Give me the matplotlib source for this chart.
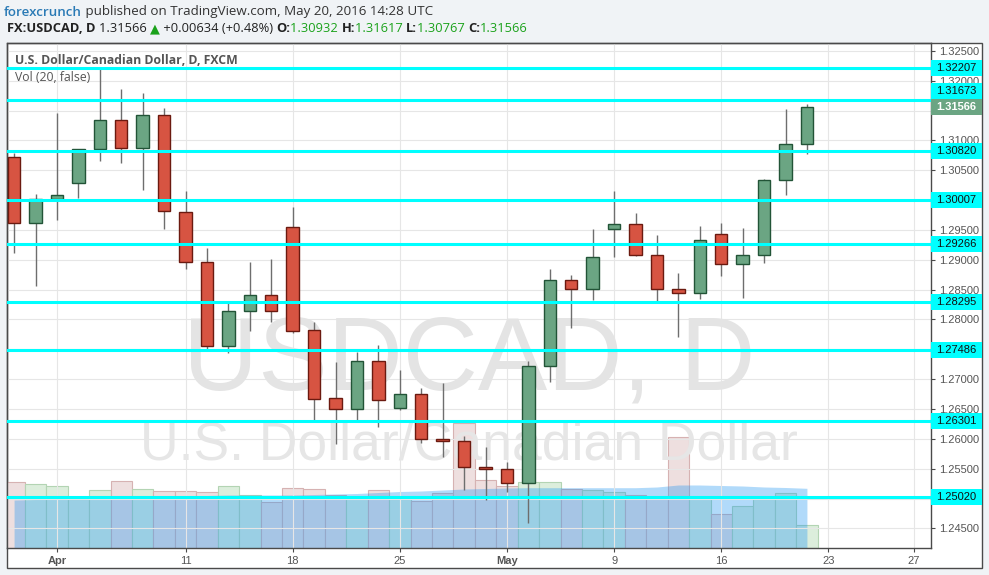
import matplotlib
matplotlib.use("Agg")
import matplotlib.pyplot as plt
import matplotlib.transforms as mtransforms
from matplotlib.patches import Rectangle
import numpy as np
import pandas as pd

# ---------------- data ----------------
calendar = pd.bdate_range("2016-03-30", "2016-05-27")   # trading-day axis
n_bars = 38                                              # Mar 30 .. May 20
opens = [1.30716, 1.29620, 1.30012, 1.30290, 1.30850, 1.31336, 1.30867, 1.31420,
         1.29795, 1.28957, 1.27555, 1.28136, 1.28404, 1.29543, 1.27818, 1.26679,
         1.26504, 1.27298, 1.26521, 1.26745, 1.25991, 1.25958, 1.25522, 1.25489,
         1.25264, 1.27220, 1.28660, 1.28505, 1.29510, 1.29594, 1.29074, 1.28505,
         1.28437, 1.29426, 1.28923, 1.29074, 1.30336, 1.30932]
highs = [1.30793, 1.30101, 1.31463, 1.30860, 1.32195, 1.31855, 1.31788, 1.31537,
         1.30151, 1.29191, 1.28270, 1.28962, 1.29007, 1.29888, 1.27957, 1.27287,
         1.27454, 1.27571, 1.27153, 1.26846, 1.26940, 1.26047, 1.25867, 1.25611,
         1.27303, 1.28845, 1.28744, 1.29515, 1.30151, 1.29778, 1.29414, 1.28783,
         1.29565, 1.29610, 1.29531, 1.30353, 1.31525, 1.31617]
lows = [1.29118, 1.28560, 1.29666, 1.30029, 1.30659, 1.30625, 1.30168, 1.29515,
        1.28845, 1.27513, 1.27432, 1.27811, 1.27962, 1.27777, 1.26315, 1.25913,
        1.26315, 1.26203, 1.26482, 1.25935, 1.25700, 1.25142, 1.24975, 1.25114,
        1.24594, 1.26957, 1.27851, 1.28325, 1.29051, 1.29060, 1.28314, 1.27710,
        1.28347, 1.28727, 1.28364, 1.28940, 1.30084, 1.30767]
closes = [1.29620, 1.30012, 1.30079, 1.30850, 1.31336, 1.30867, 1.31420, 1.29821,
          1.28957, 1.27555, 1.28136, 1.28404, 1.28136, 1.27811, 1.26672, 1.26504,
          1.27298, 1.26645, 1.26745, 1.25991, 1.25958, 1.25522, 1.25489, 1.25264,
          1.27220, 1.28660, 1.28505, 1.29041, 1.29594, 1.29074, 1.28505, 1.28437,
          1.29325, 1.28923, 1.29074, 1.30336, 1.30932, 1.31566]
volumes = [66.0, 63.7, 61.7, 49.0, 57.7, 66.7, 58.7, 56.7, 56.7, 55.7, 61.7, 53.0,
           45.7, 59.7, 58.7, 53.0, 51.3, 57.7, 48.7, 47.0, 54.7, 124.7, 67.7, 62.0,
           65.7, 65.7, 59.0, 57.7, 56.0, 52.7, 51.0, 111.0, 51.0, 33.7, 41.7, 49.3,
           54.7, 22.7]
vol_ma20 = [48.0, 48.5, 49.0, 49.5, 50.0, 50.5, 51.0, 51.5, 52.0, 52.5, 53.0, 53.0,
            53.0, 53.0, 53.5, 54.0, 54.5, 55.5, 56.5, 57.0, 58.0, 59.0, 59.5, 60.0,
            60.3, 60.3, 60.3, 60.3, 60.3, 60.3, 61.0, 63.0, 63.0, 62.5, 62.0, 61.0,
            60.5, 59.7]
levels = [1.32207, 1.31673, 1.30820, 1.30007, 1.29266, 1.28295, 1.27486, 1.26301, 1.25020]
last_price = 1.31566
xtick_dates = ["2016-04-01", "2016-04-11", "2016-04-18", "2016-04-25", "2016-05-02",
               "2016-05-09", "2016-05-16", "2016-05-23", "2016-05-27"]
xtick_labels = ["Apr", "11", "18", "25", "May", "9", "16", "23", "27"]
ytick_values = [1.24500, 1.25000, 1.25500, 1.26000, 1.26500, 1.27000, 1.27500, 1.28000,
                1.28500, 1.29000, 1.29500, 1.30000, 1.30500, 1.31000, 1.31500, 1.32000,
                1.32500]

# ---------------- style ----------------
W, H = 989, 575
FONT = "Liberation Sans"
UI = "Open Sans"
RED, RED_E = "#D75442", "#6B1A10"
GRN, GRN_E = "#6BA583", "#225437"
CYAN = "#00FFFF"
TXT = "#555555"

fig = plt.figure(figsize=(W / 100, H / 100), dpi=100, facecolor="#F0F3F6")

def fx(px):
    return px / W

def fy(py):
    return 1 - py / H

# outer white chart box
fig.patches.append(Rectangle((fx(7), fy(568)), fx(982) - fx(7), fy(43) - fy(568),
                             transform=fig.transFigure, facecolor="white",
                             edgecolor="#4A4A4A", linewidth=1.0, zorder=0))

rect = [fx(7), fy(548), fx(931) - fx(7), fy(43) - fy(548)]
ax_vol = fig.add_axes(rect, zorder=1)
ax = fig.add_axes(rect, zorder=2)
ax.patch.set_alpha(0)

x = np.array([calendar.get_loc(pd.Timestamp(d)) for d in calendar[:n_bars]])
xlim = (-0.33, 42.79)
ylim = (1.24171, 1.32631)

# ---------------- volume pane ----------------
o = np.array(opens); c = np.array(closes); h = np.array(highs); l = np.array(lows)
up = c >= o
vface = np.where(up, "#DCEEDC", "#EEDFDF")
vedge = np.where(up, "#B3D4B3", "#D6B2B2")
ax_vol.bar(x, volumes, width=1.0, color=vface, edgecolor=vedge, linewidth=0.8, zorder=1)
ax_vol.fill_between(x, 0, vol_ma20, color=(33 / 255, 150 / 255, 243 / 255, 0.35),
                    linewidth=0, zorder=2)
ax_vol.set_xlim(*xlim)
ax_vol.set_ylim(0, 505)
ax_vol.axis("off")

# ---------------- price pane ----------------
ax.set_xlim(*xlim)
ax.set_ylim(*ylim)

# grid
tick_x = [calendar.get_loc(pd.Timestamp(d)) for d in xtick_dates]
for tx in tick_x:
    ax.axvline(tx, color="#E6E6E6", lw=0.8, zorder=0)
for ty in ytick_values:
    ax.axhline(ty, color="#E6E6E6", lw=0.8, zorder=0)

bt = mtransforms.blended_transform_factory(ax.transAxes, ax.transData)

# watermark
ax.text(0.5, 1.26834, "USDCAD, D", transform=bt,
        ha="center", va="baseline", fontsize=75, color="#E4E4E4", family=FONT, zorder=0.5)
ax.text(0.5, 1.25660, "U.S. Dollar/Canadian Dollar", transform=bt,
        ha="center", va="baseline", fontsize=38.5, color="#E6E6E6", family=FONT, zorder=0.5)

# candles
ax.vlines(x, l, h, color="#6E6E6E", lw=1.0, zorder=3)
bottoms = np.minimum(o, c)
heights = np.abs(c - o)
ax.bar(x, heights, bottom=bottoms, width=0.58, color=np.where(up, GRN, RED),
       edgecolor=np.where(up, GRN_E, RED_E), linewidth=1.0, zorder=4)

# support/resistance lines
for lv in levels:
    ax.axhline(lv, color=CYAN, lw=2.2, zorder=5)

# axes styling
for s in ax.spines.values():
    s.set_color("#4A4A4A")
    s.set_linewidth(1.0)

ppu = 505 / (ylim[1] - ylim[0])           # pixels per price unit
box_h = 16 / ppu
box_w = (982 - 931) / 924

# label positions for the level boxes (pushed clear of the last-price box)
label_pos = []
for lv in levels:
    if abs(lv - last_price) < box_h:
        label_pos.append(last_price + box_h if lv > last_price else last_price - box_h)
    else:
        label_pos.append(lv)

ax.yaxis.tick_right()
ax.set_yticks(ytick_values)
ylabels = []
for v in ytick_values:
    covered = any(abs(v - p) < 0.45 * box_h for p in label_pos + [last_price])
    ylabels.append("" if covered else f"{v:.5f}")
ax.set_yticklabels(ylabels)
ax.tick_params(axis="y", which="both", length=3, width=0.8, color="#4A4A4A",
               labelsize=8, labelcolor=TXT, pad=3, left=False)
ax.set_xticks(tick_x)
ax.set_xticklabels(xtick_labels)
ax.tick_params(axis="x", length=3, width=0.8, color="#4A4A4A", labelsize=8,
               labelcolor=TXT, pad=3)
for lab in ax.get_yticklabels() + ax.get_xticklabels():
    lab.set_family(FONT)
for lab in ax.get_xticklabels():
    if lab.get_text() in ("Apr", "May"):
        lab.set_fontweight("bold")

# price-level boxes on the right scale
for lv, pos in zip(levels, label_pos):
    ax.add_patch(Rectangle((1.0, pos - box_h / 2), box_w, box_h, transform=bt,
                           facecolor=CYAN, edgecolor="none", clip_on=False, zorder=6))
    ax.text(1.0 + box_w / 2, pos, f"{lv:.5f}", transform=bt, ha="center", va="center",
            fontsize=8, color="#111111", family=FONT, clip_on=False, zorder=7)
ax.add_patch(Rectangle((1.0, last_price - box_h / 2), box_w, box_h, transform=bt,
                       facecolor=GRN, edgecolor="none", clip_on=False, zorder=6))
ax.text(1.0 + box_w / 2, last_price, f"{last_price:.5f}", transform=bt, ha="center",
        va="center", fontsize=8, color="white", fontweight="bold", family=FONT,
        clip_on=False, zorder=7)

# ---------------- header texts ----------------
renderer = fig.canvas.get_renderer()

def seq(x0, y, pieces, size):
    xp = x0
    for txt, col, wt in pieces:
        t = fig.text(fx(xp), fy(y), txt, color=col, fontweight=wt, fontsize=size,
                     family=[UI, "DejaVu Sans"], va="center", ha="left")
        xp += t.get_window_extent(renderer).width

seq(4, 12, [("forexcrunch", "#2A7AB5", "semibold"),
            (" published on TradingView.com, May 20, 2016 14:28 UTC", "#333333", "normal")], 9.6)

change = closes[-1] - opens[-1]
pct = change / opens[-1] * 100
G = "#1BA21B"
seq(7, 29, [("FX:USDCAD, D ", "#222222", "bold"),
            (f"{closes[-1]:.5f} ", "#222222", "normal"),
            ("▲", G, "normal"),
            (f" +{change:.5f} (+{pct:.2f}%) ", "#222222", "normal"),
            ("O:", "#222222", "bold"), (f"{opens[-1]:.5f} ", G, "normal"),
            ("H:", "#222222", "bold"), (f"{highs[-1]:.5f} ", G, "normal"),
            ("L:", "#222222", "bold"), (f"{lows[-1]:.5f} ", G, "normal"),
            ("C:", "#222222", "bold"), (f"{closes[-1]:.5f}", G, "normal")], 9.3)

ax.text(0.0087, 0.965, "U.S. Dollar/Canadian Dollar, D, FXCM", transform=ax.transAxes,
        fontsize=8.8, fontweight="bold", color=TXT, family=UI, va="center", ha="left", zorder=8)
ax.text(0.0087, 0.932, "Vol (20, false)", transform=ax.transAxes,
        fontsize=8.8, color=TXT, family=UI, va="center", ha="left", zorder=8)

fig.savefig("out.png", dpi=100, facecolor=fig.get_facecolor())
